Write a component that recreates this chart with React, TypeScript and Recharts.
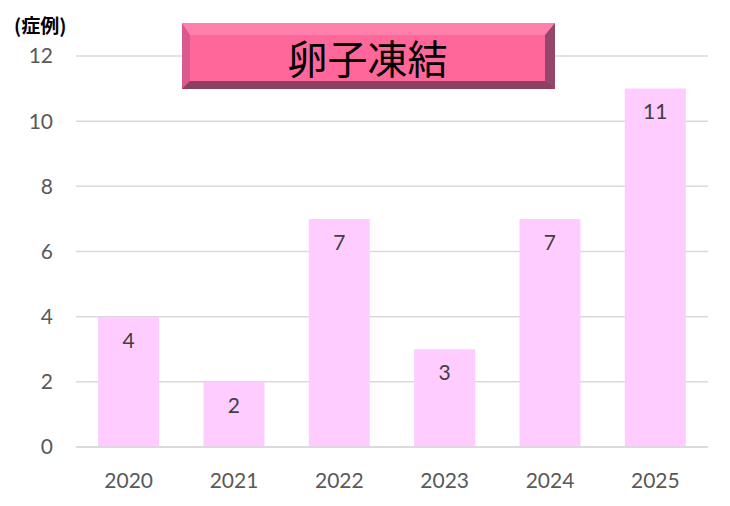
import React from "react";
import { BarChart, Bar, XAxis, YAxis, CartesianGrid, LabelList } from "recharts";

const years = ["2020", "2021", "2022", "2023", "2024", "2025"];
const cases = [4, 2, 7, 3, 7, 11];
const yTicks = [0, 2, 4, 6, 8, 10, 12];
const title = "卵子凍結";
const yUnit = "(症例)";

const data = years.map((y, i) => ({ year: y, value: cases[i] }));

const FONT = "Lato, 'Open Sans', sans-serif";

export default function App() {
  return (
    <div style={{ position: "absolute", left: 0, top: 0, width: 730, height: 506, background: "#fff" }}>
      <BarChart
        width={730}
        height={506}
        data={data}
        margin={{ top: 56, right: 22, bottom: 29, left: 16 }}
        barCategoryGap="21%"
      >
        <CartesianGrid vertical={false} stroke="#D9D9D9" strokeWidth={1.5} />
        <XAxis
          dataKey="year"
          height={30}
          axisLine={{ stroke: "#D9D9D9", strokeWidth: 1.5 }}
          tickLine={false}
          tickSize={0}
          tickMargin={26}
          tick={{ fill: "#595959", fontSize: 21, fontFamily: FONT }}
        />
        <YAxis
          width={60}
          domain={[0, 12]}
          ticks={yTicks}
          axisLine={false}
          tickLine={false}
          tickSize={0}
          tickMargin={23}
          tick={{ fill: "#595959", fontSize: 21, fontFamily: FONT }}
        />
        <Bar dataKey="value" fill="#FFCCFF" isAnimationActive={false}>
          <LabelList
            dataKey="value"
            position="insideTop"
            offset={16}
            style={{ fill: "#404040", fontSize: 21, fontFamily: FONT }}
          />
        </Bar>
      </BarChart>
      <div
        style={{
          position: "absolute",
          left: 14,
          top: 14,
          fontFamily: "'Noto Sans CJK JP', sans-serif",
          fontSize: 19,
          fontWeight: 700,
          color: "#000",
          lineHeight: "22px",
        }}
      >
        {yUnit}
      </div>
      <div
        style={{
          position: "absolute",
          left: 182,
          top: 23,
          width: 373,
          height: 66,
          boxSizing: "border-box",
          background: "#FF6699",
          borderStyle: "solid",
          borderTopWidth: 12,
          borderLeftWidth: 8,
          borderRightWidth: 10,
          borderBottomWidth: 8,
          borderTopColor: "#FF7FAD",
          borderLeftColor: "#D95A8C",
          borderRightColor: "#94466B",
          borderBottomColor: "#8E3F62",
          display: "flex",
          alignItems: "center",
          justifyContent: "center",
          fontFamily: "'Noto Sans CJK JP', sans-serif",
          fontSize: 40,
          color: "#000",
          lineHeight: 1,
        }}
      >
        <span style={{ marginTop: -2 }}>{title}</span>
      </div>
    </div>
  );
}
